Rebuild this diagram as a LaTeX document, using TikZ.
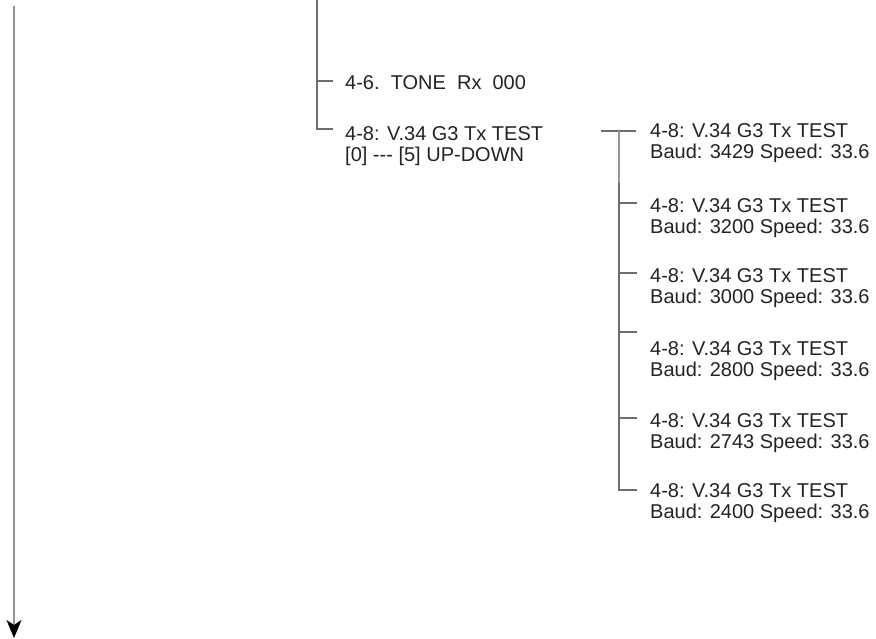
\documentclass[tikz,border=0pt]{standalone}
\usepackage{fontspec}
\setmainfont{Liberation Sans}
\usepackage{tikz}
\usetikzlibrary{arrows.meta,calc}
\definecolor{lngray}{RGB}{110,110,110}
\definecolor{lnlight}{RGB}{150,150,150}
\definecolor{txtdark}{RGB}{35,35,35}
\tikzset{
  ln/.style={draw=lngray, line width=1.2pt},
  lnl/.style={draw=lnlight, line width=1.2pt},
  lbl/.style={inner sep=0pt, text=txtdark, font=\fontsize{20}{21.5}\selectfont},
  lbltwo/.style={lbl, anchor=north west, align=left},
  timearr/.style={draw=lnlight, line width=1.4pt,
                  -{Stealth[length=18pt, width=15pt, inset=5pt, color=black]}},
}

\begin{document}
\begin{tikzpicture}[x=1pt, y=-1pt]
  \useasboundingbox (0,0) rectangle (876,639);
  % time axis
  \coordinate (atop) at (14,6);
  \coordinate (abot) at (14,638);
  \draw[timearr] (atop) -- (abot);

  % menu branch
  \coordinate (ttop) at (317,0);
  \node[lbl, anchor=west] (tone) at (345,83) {4-6.\ \ TONE\ \ Rx\ \ 000};
  \node[lbltwo] (v34) at (345,126) {4-8: V.34 G3 Tx TEST\\{[0]} -{}-{}- [5] UP-DOWN};
  \draw[ln] (ttop) |- ([shift={(-12,3)}]v34.north west);
  \draw[ln] ([shift={(-12,-2)}]tone.west) -- ++(-16,0);

  % baud steps
  \node[lbltwo] (b3429) at (650,123) {4-8: V.34 G3 Tx TEST\\Baud: 3429 Speed: 33.6};
  \node[lbltwo] (b3200) at (650,198) {4-8: V.34 G3 Tx TEST\\Baud: 3200 Speed: 33.6};
  \node[lbltwo] (b3000) at (650,268) {4-8: V.34 G3 Tx TEST\\Baud: 3000 Speed: 33.6};
  \node[lbltwo] (b2800) at (650,341) {4-8: V.34 G3 Tx TEST\\Baud: 2800 Speed: 33.6};
  \node[lbltwo] (b2743) at (650,413) {4-8: V.34 G3 Tx TEST\\Baud: 2743 Speed: 33.6};
  \node[lbltwo] (b2400) at (650,483) {4-8: V.34 G3 Tx TEST\\Baud: 2400 Speed: 33.6};

  \coordinate (rtop) at (619,131);
  \draw[ln] ([shift={(-49,8)}]b3429.north west) -- ++(35,0);
  \draw[lnl] (rtop) -- ++(0,52);
  \draw[ln] (rtop) ++(0,52) |- ([shift={(-13,7)}]b2400.north west);
  \foreach \n/\dy in {3200/5, 3000/5, 2800/-9, 2743/5}
    \draw[ln] ([shift={(-13,\dy)}]b\n.north west) -- ++(-18,0);
\end{tikzpicture}
\end{document}
